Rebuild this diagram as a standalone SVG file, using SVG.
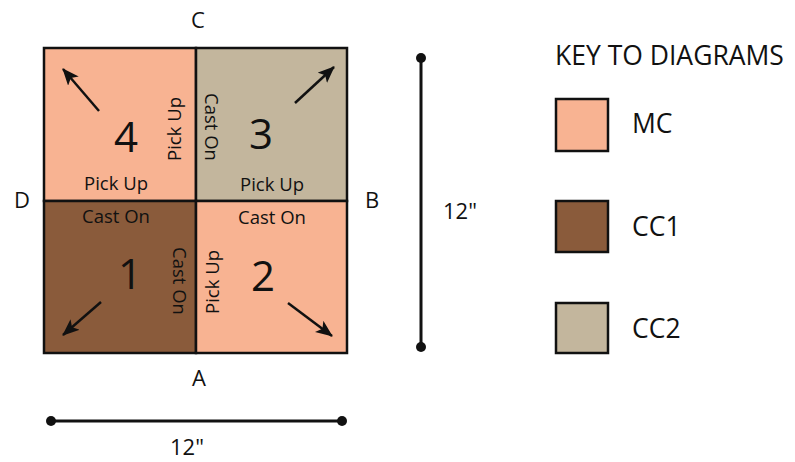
<svg xmlns="http://www.w3.org/2000/svg" width="795" height="462" viewBox="0 0 795 462">
<style>
text{font-family:"Open Sans","Liberation Sans",sans-serif;fill:#111;}
.lbl{font-size:18.5px;text-anchor:middle;}
.num{font-size:42px;text-anchor:middle;}
.side{font-size:22px;text-anchor:middle;}
.key{font-size:26.5px;}
.sq{stroke:#111;stroke-width:2.5;}
.mc{fill:#F8B392;}
.cc1{fill:#8A5B3B;}
.cc2{fill:#C3B69D;}
.arr{stroke:#111;stroke-width:2.5;fill:none;marker-end:url(#ah);}
.dim{stroke:#111;stroke-width:3;}
</style>
<defs>
<marker id="ah" markerUnits="userSpaceOnUse" markerWidth="20" markerHeight="16" refX="16" refY="7" orient="auto">
<path d="M0,0 L17,7 L0,14 L4,7 z" fill="#111"/>
</marker>
</defs>
<g id="sq4">
<rect class="sq mc" x="44" y="48" width="152" height="153"/>
<text class="num" x="126" y="152">4</text>
<text class="lbl" x="116" y="190">Pick Up</text>
<text class="lbl" transform="translate(181,129) rotate(-90)">Pick Up</text>
</g>
<g id="sq3">
<rect class="sq cc2" x="196" y="48" width="151" height="153"/>
<text class="num" x="261" y="149">3</text>
<text class="lbl" x="272" y="191">Pick Up</text>
<text class="lbl" transform="translate(205,127) rotate(90)">Cast On</text>
</g>
<g id="sq1">
<rect class="sq cc1" x="44" y="201" width="152" height="152"/>
<text class="num" x="130" y="289">1</text>
<text class="lbl" x="116" y="223">Cast On</text>
<text class="lbl" transform="translate(173,281) rotate(90)">Cast On</text>
</g>
<g id="sq2">
<rect class="sq mc" x="196" y="201" width="151" height="152"/>
<text class="num" x="263" y="291">2</text>
<text class="lbl" x="272" y="224">Cast On</text>
<text class="lbl" transform="translate(219,282) rotate(-90)">Pick Up</text>
</g>
<g id="sides">
<text class="side" x="198" y="28">C</text>
<text class="side" x="22" y="208">D</text>
<text class="side" x="372" y="208">B</text>
<text class="side" x="199" y="386">A</text>
</g>
<g id="connectors">
<line class="arr" x1="99" y1="111" x2="63" y2="69"/>
<line class="arr" x1="295" y1="103" x2="334" y2="67"/>
<line class="arr" x1="101" y1="302" x2="63" y2="335"/>
<line class="arr" x1="288" y1="303" x2="332" y2="336"/>
</g>
<g id="dim-h">
<line class="dim" x1="51" y1="421" x2="342" y2="421"/>
<circle cx="51" cy="421" r="5" fill="#111"/>
<circle cx="342" cy="421" r="5" fill="#111"/>
<text class="side" x="187" y="455">12"</text>
</g>
<g id="dim-v">
<line class="dim" x1="421" y1="58" x2="421" y2="347"/>
<circle cx="421" cy="58" r="5" fill="#111"/>
<circle cx="421" cy="347" r="5" fill="#111"/>
<text class="side" x="460" y="219">12"</text>
</g>
<g id="key">
<text class="key" x="555" y="65">KEY TO DIAGRAMS</text>
<rect class="sq mc" x="556" y="99" width="52" height="52"/>
<text class="key" x="632" y="133">MC</text>
<rect class="sq cc1" x="556" y="201" width="52" height="51"/>
<text class="key" x="632" y="236">CC1</text>
<rect class="sq cc2" x="556" y="303" width="52" height="50"/>
<text class="key" x="632" y="338">CC2</text>
</g>
</svg>
